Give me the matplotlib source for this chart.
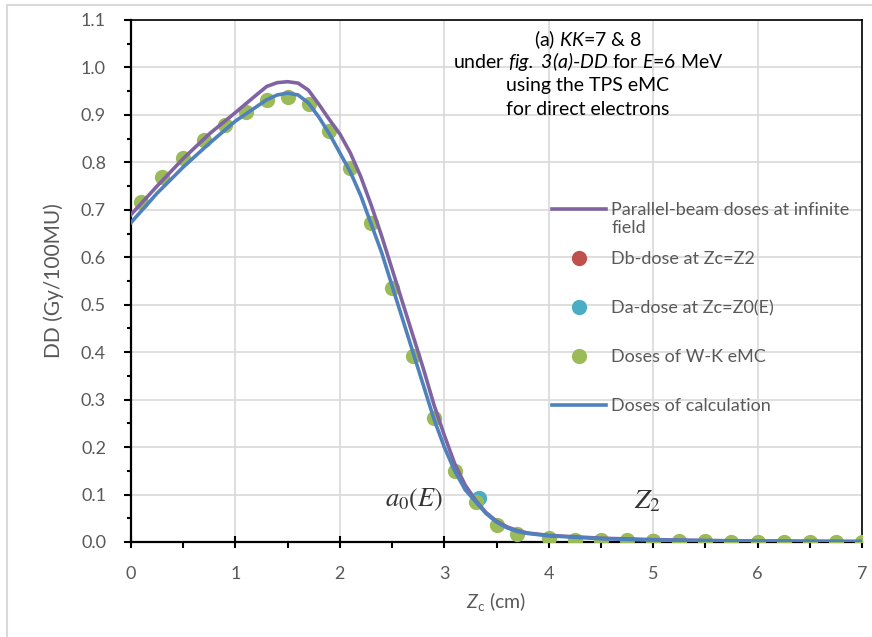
import numpy as np
import matplotlib
matplotlib.use("Agg")
import matplotlib.pyplot as plt
from matplotlib.patches import Rectangle
from matplotlib.ticker import MultipleLocator, FormatStrFormatter

plt.rcParams["font.family"] = ["Lato", "DejaVu Sans"]
plt.rcParams["mathtext.fontset"] = "custom"
plt.rcParams["mathtext.rm"] = "Lato"
plt.rcParams["mathtext.it"] = "Lato:italic"
plt.rcParams["mathtext.bf"] = "Lato:italic"   # used for fully italic runs (digits too)

GREY_TXT = "#595959"
PURPLE, BLUE = "#8064A2", "#4F81BD"
RED, CYAN, GREEN = "#C0504D", "#4BACC6", "#9BBB59"

# Parallel-beam doses at infinite field (smoothed curve)
par_z = [0.0, 0.25, 0.5, 0.75, 1.0, 1.2, 1.3, 1.4, 1.5, 1.6, 1.7, 1.8, 1.9, 2.0,
         2.1, 2.2, 2.3, 2.4, 2.5, 2.6, 2.7, 2.8, 2.9, 3.0, 3.1, 3.2, 3.3, 3.4,
         3.5, 3.6, 3.7, 3.8, 4.0, 4.5, 5.0, 5.5, 6.0, 7.0]
par_dd = [0.690, 0.750, 0.808, 0.860, 0.905, 0.942, 0.960, 0.968, 0.970, 0.967,
          0.952, 0.922, 0.890, 0.860, 0.820, 0.770, 0.710, 0.645, 0.575, 0.505,
          0.435, 0.365, 0.290, 0.225, 0.165, 0.120, 0.088, 0.062, 0.044, 0.032,
          0.024, 0.019, 0.014, 0.008, 0.005, 0.003, 0.002, 0.001]

# Doses of calculation
calc_z = par_z
calc_dd = [0.673, 0.735, 0.790, 0.840, 0.887, 0.917, 0.932, 0.942, 0.946, 0.942,
           0.925, 0.895, 0.860, 0.820, 0.780, 0.730, 0.670, 0.610, 0.540, 0.470,
           0.400, 0.330, 0.260, 0.200, 0.150, 0.110, 0.085, 0.060, 0.042, 0.030,
           0.022, 0.018, 0.013, 0.007, 0.004, 0.003, 0.002, 0.001]

# Doses of W-K eMC
wk_z = [0.1, 0.3, 0.5, 0.7, 0.9, 1.1, 1.3, 1.5, 1.7, 1.9, 2.1, 2.3, 2.5, 2.7, 2.9,
        3.1, 3.3, 3.5, 3.7, 4.0, 4.25, 4.5, 4.75, 5.0, 5.25, 5.5, 5.75, 6.0,
        6.25, 6.5, 6.75, 7.0]
wk_dd = [0.717, 0.769, 0.809, 0.847, 0.879, 0.906, 0.931, 0.937, 0.923, 0.866,
         0.788, 0.673, 0.536, 0.393, 0.261, 0.149, 0.084, 0.036, 0.017, 0.008,
         0.005, 0.005, 0.004, 0.003, 0.002, 0.002, 0.001, 0.001, 0.001, 0.001,
         0.001, 0.001]

# Db-dose at Zc=Z2 and Da-dose at Zc=Z0(E)
db_z, db_dd = [5.0], [0.003]
da_z, da_dd = [3.33], [0.092]

NOTE_LINES = ["(a) $\\mathbf{KK}$=7 & 8",
              "under $\\mathbf{fig.}$ $\\mathbf{3(a)}$-$\\mathbf{DD}$ for $\\mathbf{E}$=6 MeV",
              "using the TPS eMC",
              "for direct electrons"]

fig = plt.figure(figsize=(8.72, 6.37), dpi=100)
ax = fig.add_axes([131 / 872, 1 - 542 / 637, (862 - 131) / 872, (542 - 20) / 637])

# chart-area border
fig.patches.append(Rectangle((7 / 872, -0.1), 1.2, 1 - 5 / 637 + 0.1,
                             transform=fig.transFigure, fill=False,
                             ec="#D9D9D9", lw=1.5))

ax.plot(db_z, db_dd, "o", color=RED, ms=11, mec="none", zorder=2,
        label="Db-dose at Zc=Z2")
ax.plot(wk_z, wk_dd, "o", color=GREEN, ms=11, mec="none", zorder=3,
        label="Doses of W-K eMC")
ax.plot(da_z, da_dd, "o", color=CYAN, ms=11, mec="none", zorder=2.5,
        label="Da-dose at Zc=Z0(E)")
ax.plot(par_z, par_dd, color=PURPLE, lw=2.6, zorder=4,
        label="Parallel-beam doses at infinite")
ax.plot(calc_z, calc_dd, color=BLUE, lw=2.6, zorder=5,
        label="Doses of calculation")

ax.set_xlim(0, 7)
ax.set_ylim(0, 1.1)
ax.xaxis.set_major_locator(MultipleLocator(1))
ax.xaxis.set_minor_locator(MultipleLocator(0.5))
ax.xaxis.set_major_formatter(FormatStrFormatter("%d"))
ax.yaxis.set_major_locator(MultipleLocator(0.1))
ax.yaxis.set_minor_locator(MultipleLocator(0.05))
ax.yaxis.set_major_formatter(FormatStrFormatter("%.1f"))
ax.grid(True, which="major", color="#D9D9D9", lw=1.2, zorder=0)
ax.set_axisbelow(True)

ax.tick_params(axis="x", which="major", direction="inout", length=8, width=1.5,
               labelsize=13, labelcolor=GREY_TXT, pad=13)
ax.tick_params(axis="x", which="minor", direction="out", length=4, width=1.5)
ax.tick_params(axis="y", which="major", direction="out", length=5, width=1.5,
               labelsize=13, labelcolor=GREY_TXT, pad=13)
ax.tick_params(axis="y", which="minor", direction="out", length=3, width=1.5)
for s in ["left", "bottom"]:
    ax.spines[s].set_linewidth(1.6)
for s in ["top", "right"]:
    ax.spines[s].set_linewidth(1.2)

ax.set_xlabel(r"$\mathit{Z}_{\mathrm{c}}$ (cm)", fontsize=14, color=GREY_TXT,
              labelpad=6)
ax.set_ylabel("DD (Gy/100MU)", fontsize=15, color=GREY_TXT, labelpad=12)

for line, yy in zip(NOTE_LINES, [0.962, 0.920, 0.874, 0.828]):
    ax.text(0.625, yy, line, transform=ax.transAxes, ha="center", va="center",
            fontsize=14, color="black")

ax.text(2.71, 0.088, r"$a_0(E)$", fontsize=19, math_fontfamily="stix",
        ha="center", va="center", color="#333333", zorder=6)
ax.text(4.95, 0.086, r"$Z_2$", fontsize=20, math_fontfamily="stix",
        ha="center", va="center", color="#333333", zorder=6)

handles, labels = ax.get_legend_handles_labels()
order = [3, 0, 2, 1, 4]
leg = ax.legend([handles[i] for i in order], [labels[i] for i in order],
                loc="upper left", bbox_to_anchor=(0.576, 0.651), frameon=False,
                fontsize=13, labelcolor=GREY_TXT, labelspacing=1.83,
                handlelength=3.0, handletextpad=0.28, borderaxespad=0,
                borderpad=0)
# wrapped second line of the first legend label
ax.annotate("field", xy=(0, 0), xycoords=leg.get_texts()[0],
            xytext=(0, -1.5), textcoords="offset points", ha="left", va="top",
            fontsize=13, color=GREY_TXT, zorder=7)

fig.savefig("out.png", dpi=100)
